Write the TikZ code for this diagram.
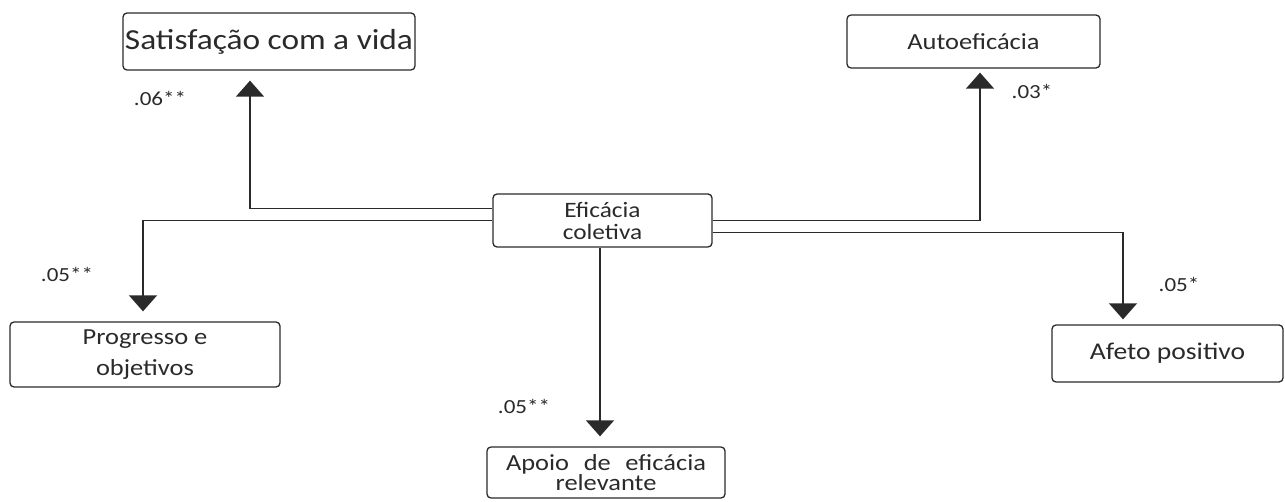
\documentclass[tikz,border=0pt]{standalone}
\usepackage{fontspec}
\setmainfont[FakeStretch=1.15]{Carlito}
\usepackage{xcolor}
\usepackage{tikz}
\usetikzlibrary{arrows.meta,calc}

\definecolor{ink}{HTML}{2A2A2A}
\tikzset{
  box/.style={draw=ink, line width=1.3pt, rounded corners=4pt, inner sep=0pt, align=center, text=ink},
  lbl/.style={inner sep=0.75pt, text=ink, font=\fontsize{20}{22}\selectfont},
  arr/.style={draw=ink, line width=1.4pt, -{Triangle[length=16pt,width=28pt]}}
}

\begin{document}
\begin{tikzpicture}[x=1pt,y=1pt,yscale=-1,xscale=1]
\useasboundingbox (0,0) rectangle (1285,502);
%Boxes
\draw (269,41.5) node (sat) [box, minimum width=292pt, minimum height=57pt, font=\fontsize{29}{31}\selectfont] {Satisfação com a vida};
\draw (973.5,41.5) node (auto) [box, minimum width=253pt, minimum height=53pt, font=\fontsize{23}{25}\selectfont] {Autoeficácia};
\draw (602.5,220.5) node (efc) [box, minimum width=219pt, minimum height=53pt, font=\fontsize{22}{22}\selectfont] {Eficácia\\coletiva};
\draw (145,354.5) node (prog) [box, minimum width=270pt, minimum height=65pt, font=\fontsize{23}{31}\selectfont] {Progresso e\\objetivos};
\draw (1167.5,353.5) node (afeto) [box, minimum width=231pt, minimum height=57pt, font=\fontsize{24}{26}\selectfont] {Afeto positivo};
\draw (606,472.5) node (apoio) [box, minimum width=238pt, minimum height=51pt, font=\fontsize{23}{18}\selectfont] {\makebox[200pt][s]{Apoio de eficácia}\\relevante};
%Arrows
\draw [arr] ($(efc.west)+(0,-12)$) -| ($(sat.south)+(-19,10)$);
\draw [arr] (efc.west) -| ($(prog.north)+(-2,-10)$);
\draw [arr] (efc.east) -| ($(auto.south)+(6.5,4)$);
\draw [arr] ($(efc.east)+(0,12)$) -| ($(afeto.north)+(-44.5,-5)$);
\draw [arr] ($(efc.south)+(-2.5,0)$) -- ($(efc.south |- apoio.north)+(-2.5,-10)$);
%Text
\draw (160,98) node (c1) [lbl] {.06**};
\draw (1032,91) node (c2) [lbl] {.03*};
\draw (67,274) node (c3) [lbl] {.05**};
\draw (524,406) node (c4) [lbl] {.05**};
\draw (1179,284) node (c5) [lbl] {.05*};
\end{tikzpicture}
\end{document}
